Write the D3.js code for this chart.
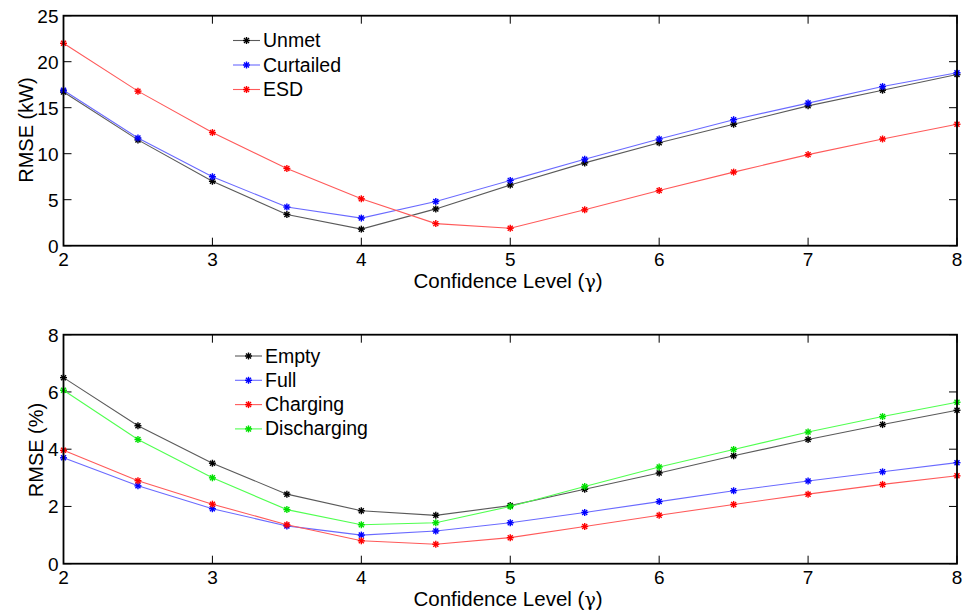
<!DOCTYPE html>
<html>
<head>
<meta charset="utf-8">
<script src="https://cdn.jsdelivr.net/npm/d3@7"></script>
<style>
  html, body { margin: 0; padding: 0; background: #fff; }
  svg { display: block; font-family: "Liberation Sans", Arial, sans-serif; }
</style>
</head>
<body>
<svg id="chart" width="963" height="612"></svg>
<script>
// Confidence level values shared by both panels
const gamma = [2, 2.5, 3, 3.5, 4, 4.5, 5, 5.5, 6, 6.5, 7, 7.5, 8];
const xTicks = [2, 3, 4, 5, 6, 7, 8];

// Upper panel: power RMSE (kW)
const unmet     = [16.7, 11.5, 7.0, 3.4, 1.8, 4.0, 6.6, 9.0, 11.2, 13.2, 15.2, 16.9, 18.6];
const curtailed = [16.9, 11.7, 7.5, 4.2, 3.0, 4.8, 7.1, 9.4, 11.6, 13.7, 15.5, 17.3, 18.8];
const esd       = [22.0, 16.8, 12.3, 8.4, 5.1, 2.4, 1.9, 3.9, 6.0, 8.0, 9.9, 11.6, 13.2];
const topYTicks = [0, 5, 10, 15, 20, 25];

// Lower panel: state RMSE (%)
const empty       = [6.50, 4.82, 3.51, 2.43, 1.85, 1.69, 2.03, 2.60, 3.17, 3.77, 4.34, 4.86, 5.36];
const full        = [3.70, 2.72, 1.92, 1.32, 1.00, 1.14, 1.43, 1.79, 2.17, 2.55, 2.89, 3.21, 3.53];
const charging    = [3.96, 2.90, 2.08, 1.36, 0.80, 0.68, 0.91, 1.30, 1.69, 2.07, 2.43, 2.77, 3.07];
const discharging = [6.06, 4.34, 3.00, 1.89, 1.36, 1.43, 2.00, 2.70, 3.38, 3.99, 4.60, 5.14, 5.64];
const bottomYTicks = [0, 2, 4, 6, 8];

const svg = d3.select("#chart");

function drawPanel(cfg) {
  const x = d3.scaleLinear().domain([2, 8]).range([cfg.left, cfg.right]);
  const y = d3.scaleLinear().domain(cfg.yDomain).range([cfg.bottom, cfg.top]);
  const g = svg.append("g");
  const tickLen = 8;

  // inward ticks on all four sides
  const xt = g.append("g");
  xTicks.forEach(v => {
    xt.append("line").attr("x1", x(v)).attr("x2", x(v))
      .attr("y1", cfg.bottom).attr("y2", cfg.bottom - tickLen)
      .attr("stroke", "#000").attr("stroke-width", 1);
    xt.append("line").attr("x1", x(v)).attr("x2", x(v))
      .attr("y1", cfg.top).attr("y2", cfg.top + tickLen)
      .attr("stroke", "#000").attr("stroke-width", 1);
    xt.append("text").attr("x", x(v)).attr("y", cfg.bottom + 20.5)
      .attr("text-anchor", "middle").attr("font-size", 19).text(v);
  });
  cfg.yTicks.forEach(v => {
    xt.append("line").attr("x1", cfg.left).attr("x2", cfg.left + tickLen)
      .attr("y1", y(v)).attr("y2", y(v))
      .attr("stroke", "#000").attr("stroke-width", 1);
    xt.append("line").attr("x1", cfg.right).attr("x2", cfg.right - tickLen)
      .attr("y1", y(v)).attr("y2", y(v))
      .attr("stroke", "#000").attr("stroke-width", 1);
    xt.append("text").attr("x", cfg.left - 5).attr("y", y(v) + 7)
      .attr("text-anchor", "end").attr("font-size", 19).text(v);
  });

  const line = d3.line().x((d, i) => x(gamma[i])).y(d => y(d));

  cfg.series.forEach(s => {
    g.append("path").datum(s.values).attr("d", line)
      .attr("fill", "none").attr("stroke", s.line).attr("stroke-width", 1.1);
    const m = g.append("g").attr("stroke", s.marker).attr("stroke-width", 1.4);
    s.values.forEach((v, i) => drawMarker(m, x(gamma[i]), y(v)));
  });

  // box
  g.append("rect").attr("x", cfg.left).attr("y", cfg.top)
    .attr("width", cfg.right - cfg.left).attr("height", cfg.bottom - cfg.top)
    .attr("fill", "none").attr("stroke", "#000").attr("stroke-width", 1.8);

  // axis titles
  const xt2 = g.append("text").attr("x", 508).attr("y", cfg.bottom + 42)
    .attr("text-anchor", "middle").attr("font-size", 20.5);
  xt2.append("tspan").text("Confidence Level (");
  xt2.append("tspan").attr("font-family", "'DejaVu Serif', serif").attr("font-size", 19).text("\u03b3");
  xt2.append("tspan").text(")");

  g.append("text")
    .attr("transform", `translate(${cfg.yLabelX},${cfg.yLabelY}) rotate(-90)`)
    .attr("text-anchor", "middle").attr("font-size", 20).text(cfg.yLabel);

  // legend
  cfg.series.forEach((s, i) => {
    const ly = cfg.legendY + i * cfg.legendStep;
    g.append("line").attr("x1", cfg.legendX).attr("x2", cfg.legendX + 27)
      .attr("y1", ly).attr("y2", ly).attr("stroke", s.line).attr("stroke-width", 1.1);
    const m = g.append("g").attr("stroke", s.marker).attr("stroke-width", 1.4);
    drawMarker(m, cfg.legendX + 13.5, ly);
    g.append("text").attr("x", cfg.legendX + 30).attr("y", ly + 6.5)
      .attr("font-size", 19.5).text(s.name);
  });
}

function drawMarker(sel, cx, cy) {
  const r = 3.5, d = 2.5;
  sel.append("line").attr("x1", cx - r).attr("x2", cx + r).attr("y1", cy).attr("y2", cy);
  sel.append("line").attr("x1", cx).attr("x2", cx).attr("y1", cy - r).attr("y2", cy + r);
  sel.append("line").attr("x1", cx - d).attr("x2", cx + d).attr("y1", cy - d).attr("y2", cy + d);
  sel.append("line").attr("x1", cx - d).attr("x2", cx + d).attr("y1", cy + d).attr("y2", cy - d);
}

drawPanel({
  left: 63.5, right: 957, top: 15.7, bottom: 245.7,
  yDomain: [0, 25], yTicks: topYTicks, yLabel: "RMSE (kW)", yLabelX: 33, yLabelY: 130,
  legendX: 233, legendY: 40.5, legendStep: 24.5,
  series: [
    { name: "Unmet", values: unmet, line: "#5a5a5a", marker: "#000" },
    { name: "Curtailed", values: curtailed, line: "#6a6aff", marker: "#0000ff" },
    { name: "ESD", values: esd, line: "#ff5a5a", marker: "#ff0000" }
  ]
});

drawPanel({
  left: 63.5, right: 957, top: 334.7, bottom: 563.7,
  yDomain: [0, 8], yTicks: bottomYTicks, yLabel: "RMSE (%)", yLabelX: 43, yLabelY: 450,
  legendX: 235, legendY: 356, legendStep: 24.3,
  series: [
    { name: "Empty", values: empty, line: "#5a5a5a", marker: "#000" },
    { name: "Full", values: full, line: "#6a6aff", marker: "#0000ff" },
    { name: "Charging", values: charging, line: "#ff5a5a", marker: "#ff0000" },
    { name: "Discharging", values: discharging, line: "#50ff50", marker: "#00e000" }
  ]
});
</script>
</body>
</html>
